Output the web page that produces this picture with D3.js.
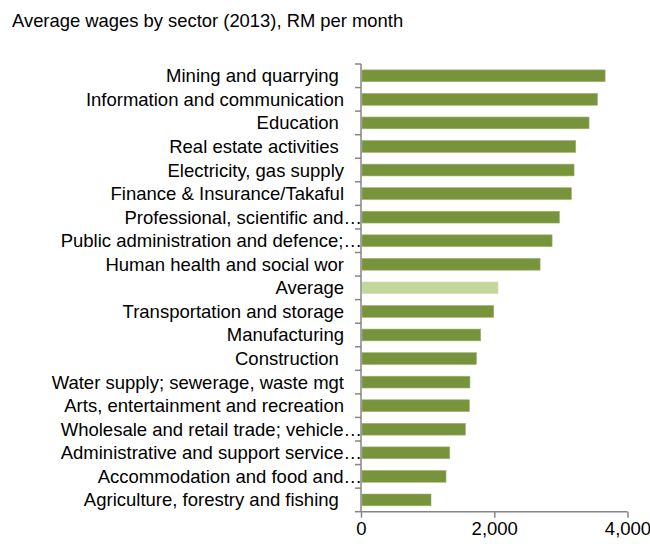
<!DOCTYPE html>
<html>
<head>
<meta charset="utf-8">
<script src="https://cdn.jsdelivr.net/npm/d3@7"></script>
<style>
  html, body { margin: 0; padding: 0; background: #fff; }
  svg text { font-family: "Liberation Sans", Arial, sans-serif; fill: #000; }
</style>
</head>
<body>
<svg id="chart" width="650" height="544"></svg>
<script>
const title = "Average wages by sector (2013), RM per month";
const categories = [
  "Mining and quarrying ",
  "Information and communication",
  "Education ",
  "Real estate activities ",
  "Electricity, gas supply",
  "Finance & Insurance/Takaful",
  "Professional, scientific and…",
  "Public administration and defence;…",
  "Human health and social wor",
  "Average",
  "Transportation and storage",
  "Manufacturing",
  "Construction ",
  "Water supply; sewerage, waste mgt",
  "Arts, entertainment and recreation",
  "Wholesale and retail trade; vehicle…",
  "Administrative and support service…",
  "Accommodation and food and…",
  "Agriculture, forestry and fishing "
];
const wages = [3664, 3549, 3423, 3223, 3198, 3158, 2978, 2868, 2688, 2057, 1992, 1797, 1732, 1635, 1627, 1567, 1332, 1276, 1051];
const highlight = ["Average"];
const xTicks = [0, 2000, 4000];

const svg = d3.select("#chart");
const margin = { left: 361, right: 22.5, top: 64, bottom: 32.3 };
const W = 650, H = 544;
const FS = 18.5;

const x = d3.scaleLinear().domain([0, 4000]).range([margin.left, W - margin.right]);
const y = d3.scaleBand().domain(categories).range([margin.top, H - margin.bottom]).paddingInner(0.5).paddingOuter(0.25);

svg.append("text")
  .attr("x", 12).attr("y", 27)
  .style("font-size", "18.4px")
  .text(title);

// bars
svg.append("g").selectAll("rect").data(categories).join("rect")
  .attr("x", x(0) + 1)
  .attr("y", d => y(d))
  .attr("width", (d, i) => x(wages[i]) - x(0) - 1)
  .attr("height", y.bandwidth())
  .attr("fill", d => highlight.includes(d) ? "#C3D69B" : "#77933C")
  .attr("stroke", d => highlight.includes(d) ? "#D7E4BD" : "#9BB46A")
  .attr("stroke-width", 0.6);

// y axis
const yAxisX = x(0);
const yg = svg.append("g");
yg.append("line")
  .attr("x1", yAxisX).attr("x2", yAxisX)
  .attr("y1", margin.top).attr("y2", H - margin.bottom)
  .attr("stroke", "#868686").attr("stroke-width", 1.5);
const boundaries = d3.range(categories.length + 1).map(i => margin.top + i * (H - margin.bottom - margin.top) / categories.length);
yg.selectAll("line.tick").data(boundaries).join("line")
  .attr("class", "tick")
  .attr("x1", yAxisX - 6).attr("x2", yAxisX)
  .attr("y1", d => d).attr("y2", d => d)
  .attr("stroke", "#868686").attr("stroke-width", 1.5);
yg.selectAll("text").data(categories).join("text")
  .attr("x", d => d.endsWith("…") ? yAxisX + 1 : yAxisX - 17)
  .attr("y", d => y(d) + y.bandwidth() / 2)
  .attr("dy", "0.35em")
  .attr("text-anchor", "end")
  .attr("xml:space", "preserve")
  .style("font-size", FS + "px")
  .style("white-space", "pre")
  .text(d => d);

// x axis
const xg = svg.append("g").attr("transform", `translate(0,${H - margin.bottom})`);
const xAxis = d3.axisBottom(x).tickValues(xTicks).tickSize(6).tickFormat(d3.format(","));
xg.call(xAxis);
xg.select(".domain").attr("stroke", "#868686").attr("stroke-width", 1.5).attr("d", `M${x(0)},0H${x(4000)}`);
xg.selectAll(".tick line").attr("stroke", "#868686").attr("stroke-width", 1.5);
xg.selectAll(".tick text").attr("y", 10).style("font-size", FS + "px").style("font-family", "'Liberation Sans', Arial, sans-serif").attr("fill", "#000");
</script>
</body>
</html>
